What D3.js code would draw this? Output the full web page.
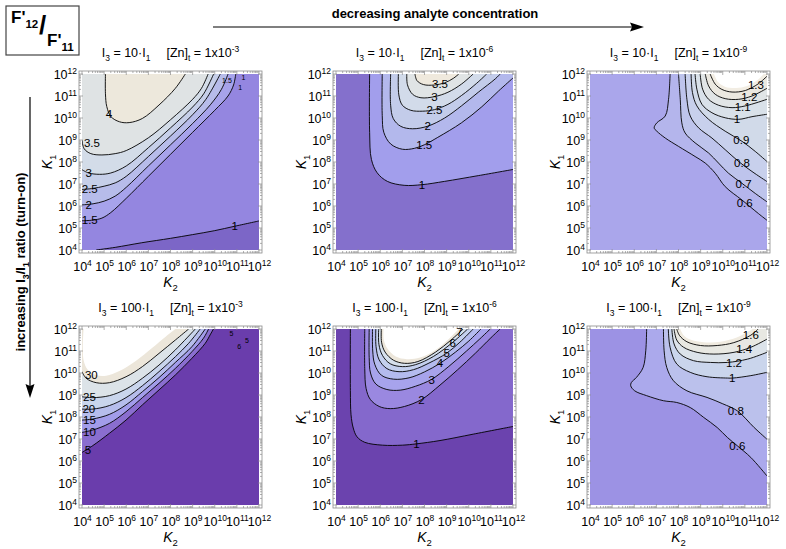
<!DOCTYPE html>
<html><head><meta charset="utf-8">
<script src="https://cdn.jsdelivr.net/npm/d3@7"></script>
<style>
body{margin:0;background:#fff}
svg{display:block}
text{font-family:"Liberation Sans",Arial,Helvetica,sans-serif}
</style></head>
<body><svg id="c" width="786" height="549"></svg>
<script>
// ---------------- DATA (log10 K2, log10 K1) ----------------
const exps = [4,5,6,7,8,9,10,11,12];
const ratioFactors = ["10","10","10","100","100","100"];
const znExponents = ["-3","-6","-9","-3","-6","-9"];

// Panel 1: I3 = 10 I1, [Zn]t = 1e-3
const p1Levels = ["1","1.5","2","2.5","3","3.5","4"];
const p1Lines = [
  [[4.64,4],[5.5,4.12],[6.7,4.33],[8,4.53],[9,4.7],[10,4.88],[10.9,5.08],[12,5.32]],
  [[4,5.33],[4.5,5.36],[4.9,5.45],[5.3,5.7],[6,6.35],[7,7.35],[8,8.35],[9,9.35],[10,10.35],[10.6,11.0],[10.85,11.5],[10.95,12]],
  [[4,6.05],[4.5,6.1],[5.0,6.22],[5.5,6.45],[6,6.85],[7,7.82],[8,8.78],[9,9.75],[9.8,10.6],[10.3,11.3],[10.6,12]],
  [[4,6.75],[4.5,6.8],[5.0,6.9],[5.5,7.05],[6,7.35],[7,8.25],[8,9.18],[9,10.15],[9.6,10.85],[10.25,12]],
  [[4,7.65],[4.3,7.5],[4.8,7.44],[5.3,7.5],[6,7.82],[7,8.65],[8,9.55],[9,10.5],[9.5,11.1],[9.95,12]],
  [[4,9.0],[4.1,8.6],[4.4,8.38],[4.9,8.32],[5.5,8.38],[6,8.52],[7,9.1],[8,9.92],[9,10.85],[9.4,11.35],[9.7,12]],
  [[5.06,12],[5.06,11.1],[5.12,10.52],[5.31,10.06],[5.69,9.83],[6.13,9.79],[6.73,9.98],[7.48,10.59],[8.22,11.35],[8.67,12]]
];
const p1LabelAt = [[10.9,5.08],[4.35,5.35],[4.3,6.07],[4.35,6.77],[4.3,7.52],[4.45,8.85],[5.22,10.2]];
const p1SmallLabels = [["1.5",10.55,11.72],["1",11.3,11.85],["1",11.15,11.4]];

// Panel 2: I3 = 10 I1, [Zn]t = 1e-6
const p2Levels = ["1","1.5","2","2.5","3","3.5"];
const p2Lines = [
  [[5.52,12],[5.52,9.35],[5.6,8.12],[5.86,7.51],[6.32,7.12],[7.08,6.94],[7.89,6.97],[8.91,7.12],[10.43,7.38],[12,7.66]],
  [[6.09,12],[6.09,10.12],[6.16,9.35],[6.47,8.82],[7.0,8.58],[7.54,8.62],[7.99,8.78],[8.6,9.12],[9.67,9.78],[10.59,10.51],[11.35,11.23],[12,11.82]],
  [[6.47,12],[6.47,10.58],[6.59,9.97],[6.93,9.62],[7.46,9.51],[8.15,9.63],[8.91,10.0],[9.67,10.55],[10.43,11.17],[11.2,11.78],[11.42,12]],
  [[6.82,12],[6.84,11.05],[7.0,10.58],[7.38,10.35],[7.92,10.31],[8.45,10.38],[9.06,10.62],[9.67,11.02],[10.36,11.58],[10.81,12]],
  [[7.2,12],[7.23,11.51],[7.46,11.08],[7.84,10.92],[8.45,10.97],[9.06,11.17],[9.67,11.54],[10.2,12]],
  [[7.57,12],[7.66,11.7],[7.95,11.52],[8.45,11.5],[8.91,11.6],[9.3,11.8],[9.55,12]]
];
const p2LabelAt = [[7.89,6.97],[7.99,8.78],[8.15,9.63],[8.45,10.38],[8.45,10.97],[8.7,11.55]];

// Panel 3: I3 = 10 I1, [Zn]t = 1e-9
const p3Levels = ["0.6","0.7","0.8","0.9","1","1.1","1.2","1.3"];
const p3Lines = [
  [[7.62,12],[7.55,10.85],[7.4,10.09],[7.02,9.78],[6.9,9.55],[7.02,9.4],[7.4,9.09],[8.0,8.71],[8.75,8.25],[9.21,7.95],[9.66,7.49],[10.11,6.88],[10.87,6.27],[11.62,5.65],[12,5.35]],
  [[8.0,12],[8.08,10.85],[8.15,9.78],[8.3,9.32],[8.75,8.87],[9.36,8.41],[9.81,7.95],[10.26,7.49],[10.87,7.03],[11.47,6.57],[12,6.19]],
  [[8.3,12],[8.38,10.85],[8.53,10.09],[8.91,9.55],[9.51,9.09],[10.11,8.56],[10.72,8.02],[11.32,7.57],[12,7.11]],
  [[8.57,12],[8.63,11.16],[8.83,10.55],[9.36,9.94],[10.11,9.4],[10.87,8.94],[11.47,8.48],[12,8.02]],
  [[8.75,12],[8.83,11.31],[9.06,10.62],[9.51,10.24],[10.11,10.01],[10.72,9.94],[11.32,10.06],[12,10.17]],
  [[8.98,12],[9.09,11.31],[9.36,10.85],[9.81,10.58],[10.42,10.47],[11.02,10.55],[12,10.85]],
  [[9.21,12],[9.36,11.46],[9.66,11.08],[10.11,10.88],[10.72,10.85],[11.32,11.0],[12,11.35]],
  [[9.43,12],[9.66,11.54],[9.96,11.3],[10.42,11.18],[11.02,11.25],[11.6,11.55],[12,11.9]]
];
const p3Edge = [[9.6,12],[9.8,11.62],[10.1,11.42],[10.6,11.36],[11.1,11.45],[11.6,11.75],[11.85,12]];
const p3LabelAt = [[10.99,6.15],[10.94,7.0],[10.87,7.95],[10.84,9.0],[10.64,9.95],[10.9,10.5],[11.2,10.96],[11.5,11.5]];

// Panel 4: I3 = 100 I1, [Zn]t = 1e-3
const p4Levels = ["5","10","15","20","25","30"];
const p4Lines = [
  [[4,6.39],[4.49,6.7],[5.24,7.26],[5.99,7.86],[6.73,8.55],[7.48,9.23],[8.22,9.91],[8.97,10.67],[9.57,11.35],[9.79,11.73],[9.94,12]],
  [[4,7.3],[4.49,7.41],[5.24,7.71],[5.99,8.24],[6.73,8.88],[7.48,9.53],[8.22,10.21],[8.97,10.97],[9.49,11.58],[9.72,12]],
  [[4,7.86],[4.49,7.91],[5.24,8.12],[5.99,8.55],[6.73,9.15],[7.48,9.79],[8.22,10.48],[8.97,11.2],[9.57,12]],
  [[4,8.36],[4.49,8.36],[5.24,8.52],[5.99,8.88],[6.73,9.42],[7.48,10.06],[8.22,10.74],[8.82,11.35],[9.34,12]],
  [[4,8.92],[4.49,8.88],[5.24,8.97],[5.99,9.27],[6.73,9.76],[7.48,10.36],[8.22,11.05],[9.12,12]],
  [[4,10.06],[4.19,9.76],[4.64,9.56],[5.24,9.56],[5.99,9.83],[6.73,10.29],[7.48,10.89],[8.22,11.5],[8.82,12]]
];
const p4Edge = [[4.07,12],[4.07,10.59],[4.27,10.14],[4.64,9.91],[5.09,9.88],[5.69,10.09],[6.43,10.55],[7.18,11.15],[7.78,11.65],[8.22,12]];
const p4LabelAt = [[4.27,6.5],[4.34,7.33],[4.34,7.86],[4.31,8.36],[4.34,8.92],[4.42,9.91]];
const p4SmallLabels = [["5",10.75,11.8],["5",11.45,11.5],["6",11.1,11.2]];

// Panel 5: I3 = 100 I1, [Zn]t = 1e-6
const p5Levels = ["1","2","3","4","5","6","7"];
const p5Lines = [
  [[4.65,12],[4.65,9.2],[4.68,8.1],[4.78,7.5],[4.95,7.1],[5.3,6.85],[6.1,6.72],[7.0,6.72],[7.64,6.78],[8.7,6.93],[10.2,7.22],[12,7.57]],
  [[5.3,12],[5.3,10.2],[5.36,9.3],[5.55,8.8],[5.95,8.48],[6.45,8.38],[7.1,8.48],[7.86,8.79],[8.7,9.45],[9.5,10.15],[10.3,10.9],[11.0,11.6],[11.42,12]],
  [[5.5,12],[5.5,10.7],[5.56,10.0],[5.8,9.5],[6.3,9.25],[6.9,9.22],[7.6,9.4],[8.32,9.71],[9.1,10.3],[9.9,11.0],[10.5,11.55],[10.97,12]],
  [[5.65,12],[5.66,11.0],[5.75,10.4],[6.05,9.9],[6.6,9.72],[7.3,9.78],[8.0,10.05],[8.7,10.44],[9.4,10.95],[10.0,11.45],[10.55,12]],
  [[5.8,12],[5.81,11.2],[5.95,10.6],[6.3,10.2],[6.85,10.06],[7.5,10.15],[8.2,10.45],[9.0,10.9],[9.6,11.4],[10.2,12]],
  [[5.93,12],[5.94,11.3],[6.1,10.8],[6.45,10.42],[7.0,10.29],[7.6,10.38],[8.4,10.75],[9.27,11.39],[9.95,12]],
  [[6.05,12],[6.06,11.4],[6.22,10.95],[6.6,10.58],[7.1,10.44],[7.7,10.52],[8.5,10.95],[9.2,11.5],[9.75,12]]
];
const p5Edge = [[6.15,12],[6.16,11.5],[6.33,11.1],[6.7,10.75],[7.2,10.63],[7.8,10.7],[8.5,11.05],[9.1,11.55],[9.55,12]];
const p5LabelAt = [[7.64,6.78],[7.86,8.79],[8.32,9.71],[8.7,10.44],[9.0,10.9],[9.27,11.39],[9.58,11.86]];

// Panel 6: I3 = 100 I1, [Zn]t = 1e-9
const p6Levels = ["0.6","0.8","1","1.2","1.4","1.6"];
const p6Lines = [
  [[6.56,12],[6.52,11.01],[6.4,10.25],[6.1,9.8],[5.87,9.57],[5.84,9.42],[6.02,9.19],[6.56,8.97],[7.32,8.74],[7.92,8.66],[8.53,8.43],[9.14,7.98],[9.75,7.52],[10.21,7.07],[10.66,6.69],[11.27,6.16],[12,5.32]],
  [[7.32,12],[7.35,11.01],[7.47,10.25],[7.77,9.65],[8.38,9.19],[9.29,8.89],[10.0,8.6],[10.66,8.28],[11.42,7.52],[12,6.99]],
  [[7.54,12],[7.62,11.17],[7.92,10.41],[8.53,10.03],[9.29,9.83],[10.21,9.77],[10.45,9.77],[11.27,9.88],[12,10.03]],
  [[7.7,12],[7.8,11.32],[8.08,10.86],[8.68,10.56],[9.44,10.48],[10.21,10.48],[11.12,10.63],[12,10.94]],
  [[7.8,12],[7.92,11.5],[8.23,11.17],[8.84,10.94],[9.6,10.86],[10.51,10.94],[11.27,11.17],[12,11.54]],
  [[7.92,12],[8.05,11.7],[8.38,11.42],[8.99,11.25],[9.75,11.25],[10.5,11.38],[11.27,11.72],[11.6,12]]
];
const p6Edge = [[8.08,12],[8.23,11.72],[8.53,11.52],[9.14,11.4],[9.9,11.42],[10.6,11.6],[11.1,11.85],[11.35,12]];
const p6LabelAt = [[10.66,6.69],[10.59,8.28],[10.43,9.77],[10.51,10.48],[10.97,11.09],[11.27,11.72]];

// ---------------- STYLE ----------------
const p1Colors = ["#7c66c7","#9486e0","#a7a3eb","#b7bcea","#c6cfe9","#d3dce8","#dfe3e4","#ede8dc"];
const p2Colors = ["#8470cc","#a29eec","#b3b8ec","#c3ccea","#d2dbea","#e0e4e5","#efe9dd"];
const p3Colors = ["#aaa6eb","#b4b5ec","#bec4ec","#c8d0ec","#d1dae9","#d9e1e9","#e1e5e6","#ebe8e0","#f2ede3","#ffffff"];
const p4Colors = ["#6a3dac","#8a6ecf","#a29cea","#b6bdec","#c9d5ec","#dce3e8","#ece6da","#ffffff"];
const p5Colors = ["#6b43ae","#8468cc","#9a88e0","#a7a3ec","#b4bbee","#c4d0ee","#d6e0ec","#ece6da","#ffffff"];
const p6Colors = ["#9c92e4","#aba9ec","#bbc1ec","#cad5ec","#dce3ea","#e8e8e2","#f0ebe0","#ffffff"];

const colX = [82, 336, 590], rowY = [74, 329], W = 177, H = 176, PAD = 3;

const panels = [
  {lines:p1Lines, levels:p1Levels, labels:p1LabelAt, edge:null,   colors:p1Colors, small:p1SmallLabels},
  {lines:p2Lines, levels:p2Levels, labels:p2LabelAt, edge:null,   colors:p2Colors, small:[]},
  {lines:p3Lines, levels:p3Levels, labels:p3LabelAt, edge:p3Edge, colors:p3Colors, small:[]},
  {lines:p4Lines, levels:p4Levels, labels:p4LabelAt, edge:p4Edge, colors:p4Colors, small:p4SmallLabels},
  {lines:p5Lines, levels:p5Levels, labels:p5LabelAt, edge:p5Edge, colors:p5Colors, small:[]},
  {lines:p6Lines, levels:p6Levels, labels:p6LabelAt, edge:p6Edge, colors:p6Colors, small:[]}
];

const svg = d3.select("#c");

function rich(sel, parts, size) {
  let off = 0;
  parts.forEach(p => {
    const [t, kind, extra] = p;
    const target = kind === "sub" ? size * 0.3 : kind === "sup" ? -size * 0.42 : 0;
    const ts = sel.append("tspan").text(t)
      .attr("font-size", kind === "sub" || kind === "sup" ? size * 0.68 : size)
      .attr("dy", target - off);
    if (extra && extra.italic) ts.attr("font-style", "italic");
    if (extra && extra.dx !== undefined) ts.attr("dx", extra.dx);
    off = target;
  });
}

// perimeter closure walking counter-clockwise from contour end to start
function closure(pts) {
  const s = ([a, b]) => {
    if (b <= 4 + 1e-9 && a < 12) return (a - 4) / 8;
    if (a >= 12 - 1e-9 && b < 12) return 1 + (b - 4) / 8;
    if (b >= 12 - 1e-9 && a > 4) return 2 + (12 - a) / 8;
    return 3 + (12 - b) / 8;
  };
  const sEnd = s(pts[pts.length - 1]);
  let target = s(pts[0]);
  if (target <= sEnd) target += 4;
  const corners = [[12,4],[12,12],[4,12],[4,4]];
  const out = [];
  for (let k = Math.floor(sEnd + 1e-9) + 1; k < target; k++) out.push(corners[(k - 1) % 4]);
  return out;
}

panels.forEach((p, i) => {
  const r = Math.floor(i / 3), c = i % 3;
  const x0 = colX[c], y0 = rowY[r];
  const x = d3.scaleLog().domain([1e4, 1e12]).range([x0, x0 + W]);
  const y = d3.scaleLog().domain([1e4, 1e12]).range([y0 + H, y0]);
  const X = d => x(Math.pow(10, d[0])), Y = d => y(Math.pow(10, d[1]));
  const line = d3.line().x(X).y(Y).curve(d3.curveCatmullRom.alpha(0.5));
  const region = pts => line(pts) + closure(pts).map(q => `L${X(q)},${Y(q)}`).join("") + "Z";

  const g = svg.append("g");
  const cid = "clip" + i;
  g.append("clipPath").attr("id", cid).append("rect")
    .attr("x", x0).attr("y", y0).attr("width", W).attr("height", H);
  const pg = g.append("g").attr("clip-path", `url(#${cid})`);
  pg.append("rect").attr("x", x0).attr("y", y0).attr("width", W).attr("height", H)
    .attr("fill", p.colors[0]);
  p.lines.forEach((pts, k) => pg.append("path").attr("d", region(pts)).attr("fill", p.colors[k + 1]));
  if (p.edge) pg.append("path").attr("d", region(p.edge)).attr("fill", p.colors[p.colors.length - 1]);
  p.lines.forEach(pts => pg.append("path").attr("d", line(pts))
    .attr("fill", "none").attr("stroke", "#000").attr("stroke-width", 0.9));

  // contour labels
  p.levels.forEach((lv, k) => {
    g.append("text").attr("x", X(p.labels[k])).attr("y", Y(p.labels[k]))
      .attr("dy", "0.36em").attr("text-anchor", "middle")
      .attr("font-size", 11.5).attr("fill", "#000").text(lv);
  });
  p.small.forEach(([t, a, b]) => {
    g.append("text").attr("x", X([a, b])).attr("y", Y([a, b]))
      .attr("dy", "0.36em").attr("text-anchor", "middle")
      .attr("font-size", 7).attr("fill", "#000").text(t);
  });

  // frame + ticks
  const fx0 = x0 - PAD, fx1 = x0 + W + PAD, fy0 = y0 - PAD, fy1 = y0 + H + PAD;
  g.append("rect").attr("x", fx0).attr("y", fy0).attr("width", fx1 - fx0).attr("height", fy1 - fy0)
    .attr("fill", "none").attr("stroke", "#8c8c8c").attr("stroke-width", 0.8);
  const tickVals = x.ticks();
  const tg = g.append("g").attr("stroke", "#8c8c8c").attr("stroke-width", 0.7);
  tickVals.forEach(v => {
    const major = Math.abs(Math.log10(v) - Math.round(Math.log10(v))) < 1e-9;
    const L = major ? 4 : 2;
    const px = x(v), py = y(v);
    tg.append("line").attr("x1", px).attr("x2", px).attr("y1", fy1).attr("y2", fy1 - L);
    tg.append("line").attr("x1", px).attr("x2", px).attr("y1", fy0).attr("y2", fy0 + L);
    tg.append("line").attr("y1", py).attr("y2", py).attr("x1", fx0).attr("x2", fx0 + L);
    tg.append("line").attr("y1", py).attr("y2", py).attr("x1", fx1).attr("x2", fx1 - L);
  });

  // axes labels (d3 axes, text rebuilt with superscripts)
  const ax = g.append("g").attr("transform", `translate(0,${y0 + H})`)
    .call(d3.axisBottom(x).tickValues(exps.map(e => Math.pow(10, e))).tickSize(0));
  ax.select(".domain").remove();
  ax.attr("font-family", null).attr("font-size", null);
  ax.selectAll(".tick text").each(function(d) {
    const t = d3.select(this).text(null).attr("dy", null).attr("y", 21).attr("fill", "#000");
    rich(t, [["10", "n"], [String(Math.round(Math.log10(d))), "sup"]], 12.5);
  });
  const ay = g.append("g").attr("transform", `translate(${x0},0)`)
    .call(d3.axisLeft(y).tickValues(exps.map(e => Math.pow(10, e))).tickSize(0));
  ay.select(".domain").remove();
  ay.attr("font-family", null).attr("font-size", null);
  ay.selectAll(".tick text").each(function(d) {
    const t = d3.select(this).text(null).attr("dy", null).attr("x", -5).attr("y", 4.5).attr("fill", "#000");
    rich(t, [["10", "n"], [String(Math.round(Math.log10(d))), "sup"]], 12.5);
  });

  // axis titles
  const k2 = g.append("text").attr("x", x0 + W / 2).attr("y", y0 + H + 37)
    .attr("text-anchor", "middle").attr("fill", "#000");
  rich(k2, [["K", "n", {italic: true}], ["2", "sub"]], 14);
  const k1 = g.append("text").attr("transform", `translate(${x0 - 30},${y0 + H / 2}) rotate(-90)`)
    .attr("text-anchor", "middle").attr("fill", "#000");
  rich(k1, [["K", "n", {italic: true}], ["1", "sub"]], 14);

  // title
  const tt = g.append("text").attr("x", x0 + W / 2).attr("y", y0 - 17)
    .attr("text-anchor", "middle").attr("fill", "#000");
  rich(tt, [["I", "n"], ["3", "sub"], [" = " + ratioFactors[i] + "·I", "n"], ["1", "sub"],
            ["[Zn]", "n", {dx: 16}], ["t", "sub"], [" = 1x10", "n"], [znExponents[i], "sup"]], 12.5);
});

// ---------------- header / annotations ----------------
svg.append("rect").attr("x", 6).attr("y", 6).attr("width", 73).attr("height", 49)
  .attr("fill", "none").attr("stroke", "#444").attr("stroke-width", 1.2);
const f1 = svg.append("text").attr("x", 11).attr("y", 23).attr("font-weight", "bold").attr("fill", "#000");
rich(f1, [["F'", "n"], ["12", "sub"]], 17);
svg.append("text").attr("x", 39).attr("y", 34).attr("font-weight", "bold").attr("font-size", 26)
  .attr("fill", "#000").text("/");
const f2 = svg.append("text").attr("x", 47).attr("y", 46).attr("font-weight", "bold").attr("fill", "#000");
rich(f2, [["F'", "n"], ["11", "sub"]], 17);

svg.append("text").attr("x", 435).attr("y", 18).attr("text-anchor", "middle")
  .attr("font-weight", "bold").attr("font-size", 13).attr("fill", "#000")
  .text("decreasing analyte concentration");
svg.append("line").attr("x1", 213).attr("x2", 632).attr("y1", 27).attr("y2", 27)
  .attr("stroke", "#000").attr("stroke-width", 1.2);
svg.append("path").attr("d", "M644,27 L630,22.5 L632,27 L630,31.5 Z").attr("fill", "#000");

svg.append("line").attr("x1", 30).attr("x2", 30).attr("y1", 97).attr("y2", 386)
  .attr("stroke", "#000").attr("stroke-width", 1.2);
svg.append("path").attr("d", "M30,398 L25.5,384 L30,386 L34.5,384 Z").attr("fill", "#000");
const lt = svg.append("text").attr("transform", "translate(25,262) rotate(-90)")
  .attr("text-anchor", "middle").attr("font-weight", "bold").attr("fill", "#000");
rich(lt, [["increasing I", "n"], ["3", "sub"], ["/I", "n"], ["1", "sub"], [" ratio (turn-on)", "n"]], 13);
</script></body></html>
